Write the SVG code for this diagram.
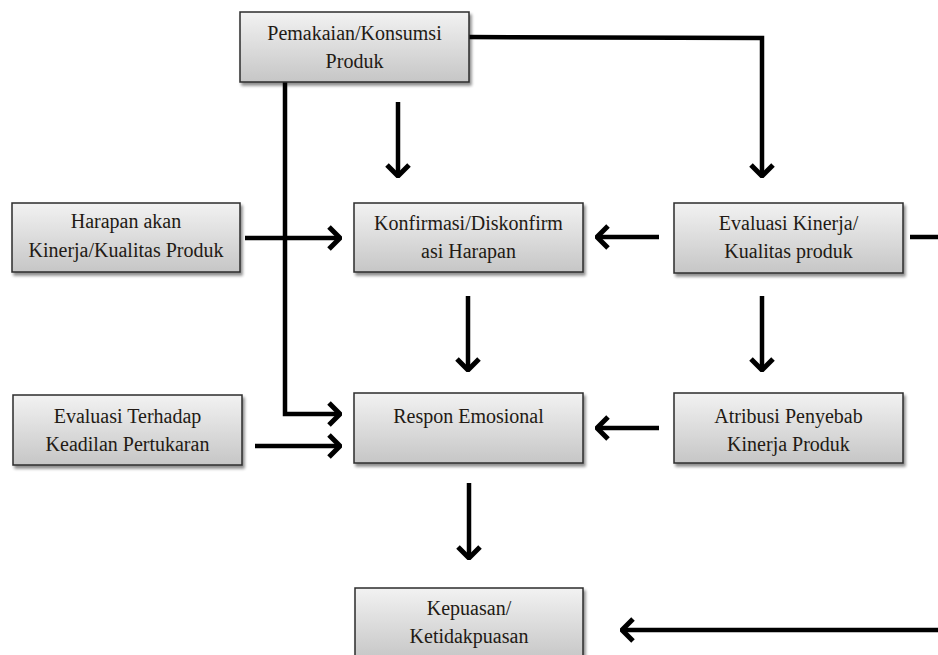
<svg xmlns="http://www.w3.org/2000/svg" width="938" height="655" viewBox="0 0 938 655">
  <defs>
    <linearGradient id="boxFill" x1="0" y1="0" x2="0" y2="1">
      <stop offset="0" stop-color="#f2f2f2"/>
      <stop offset="1" stop-color="#c6c6c6"/>
    </linearGradient>
    <filter id="shadow" x="-10%" y="-10%" width="130%" height="140%">
      <feGaussianBlur in="SourceAlpha" stdDeviation="1.5"/>
      <feOffset dx="2" dy="3" result="off"/>
      <feComponentTransfer><feFuncA type="linear" slope="0.45"/></feComponentTransfer>
      <feMerge><feMergeNode/><feMergeNode in="SourceGraphic"/></feMerge>
    </filter>
    <marker id="arrow" viewBox="-14 -14 16 28" refX="0" refY="0" markerWidth="16" markerHeight="28" markerUnits="userSpaceOnUse" orient="auto">
      <path d="M -11 -11 L 0 0 L -11 11" fill="none" stroke="#000" stroke-width="5" stroke-linejoin="miter" stroke-linecap="butt"/>
    </marker>
  </defs>
  <style>
    .box { fill: url(#boxFill); stroke: #2b2b2b; stroke-width: 1.5; filter: url(#shadow); }
    .label { font-family: 'Liberation Serif', 'Times New Roman', serif; font-size: 20px; fill: #221a14; text-anchor: middle; }
    .link { fill: none; stroke: #000; stroke-width: 4.5; stroke-linejoin: miter; }
    .arr { marker-end: url(#arrow); }
  </style>
  <rect width="938" height="655" fill="#ffffff"/>

  <g id="connectors">
    <!-- product use: branches to performance evaluation and straight to emotional response -->
    <path class="link arr" d="M 469 37 L 762 38 L 762 176"/>
    <path class="link arr" d="M 398 102 L 398 176"/>
    <path class="link arr" d="M 285 82 L 285 414 L 340 414"/>
    <!-- row 1 -->
    <path class="link arr" d="M 245 238 L 340 238"/>
    <path class="link arr" d="M 659 237 L 597 237"/>
    <path class="link" d="M 910 237 L 940 237"/>
    <!-- downward flows -->
    <path class="link arr" d="M 468 296 L 468 370"/>
    <path class="link arr" d="M 762 296 L 762 370"/>
    <path class="link arr" d="M 469 483 L 469 558"/>
    <!-- row 2 -->
    <path class="link arr" d="M 255 446 L 340 446"/>
    <path class="link arr" d="M 659 428 L 597 428"/>
    <!-- return into satisfaction -->
    <path class="link arr" d="M 940 630 L 622 630"/>
  </g>

  <g id="pemakaian">
    <rect class="box" x="240" y="12" width="229" height="70"/>
    <text class="label" x="354.5" y="40">Pemakaian/Konsumsi</text>
    <text class="label" x="354.5" y="68">Produk</text>
  </g>

  <g id="harapan">
    <rect class="box" x="12" y="203" width="228" height="69"/>
    <text class="label" x="126" y="228">Harapan akan</text>
    <text class="label" x="126" y="257">Kinerja/Kualitas Produk</text>
  </g>

  <g id="konfirmasi">
    <rect class="box" x="354" y="203" width="229" height="69"/>
    <text class="label" x="468.5" y="230">Konfirmasi/Diskonfirm</text>
    <text class="label" x="468.5" y="258">asi Harapan</text>
  </g>

  <g id="evaluasi-kinerja">
    <rect class="box" x="674" y="203" width="229" height="70"/>
    <text class="label" x="788.5" y="230">Evaluasi Kinerja/</text>
    <text class="label" x="788.5" y="258">Kualitas produk</text>
  </g>

  <g id="evaluasi-keadilan">
    <rect class="box" x="13" y="395" width="229" height="70"/>
    <text class="label" x="127.5" y="423">Evaluasi Terhadap</text>
    <text class="label" x="127.5" y="451">Keadilan Pertukaran</text>
  </g>

  <g id="respon">
    <rect class="box" x="354" y="393" width="229" height="70"/>
    <text class="label" x="468.5" y="423">Respon Emosional</text>
  </g>

  <g id="atribusi">
    <rect class="box" x="674" y="393" width="229" height="70"/>
    <text class="label" x="788.5" y="423">Atribusi Penyebab</text>
    <text class="label" x="788.5" y="451">Kinerja Produk</text>
  </g>

  <g id="kepuasan">
    <rect class="box" x="355" y="588" width="228" height="72"/>
    <text class="label" x="469" y="615">Kepuasan/</text>
    <text class="label" x="469" y="643">Ketidakpuasan</text>
  </g>
</svg>
